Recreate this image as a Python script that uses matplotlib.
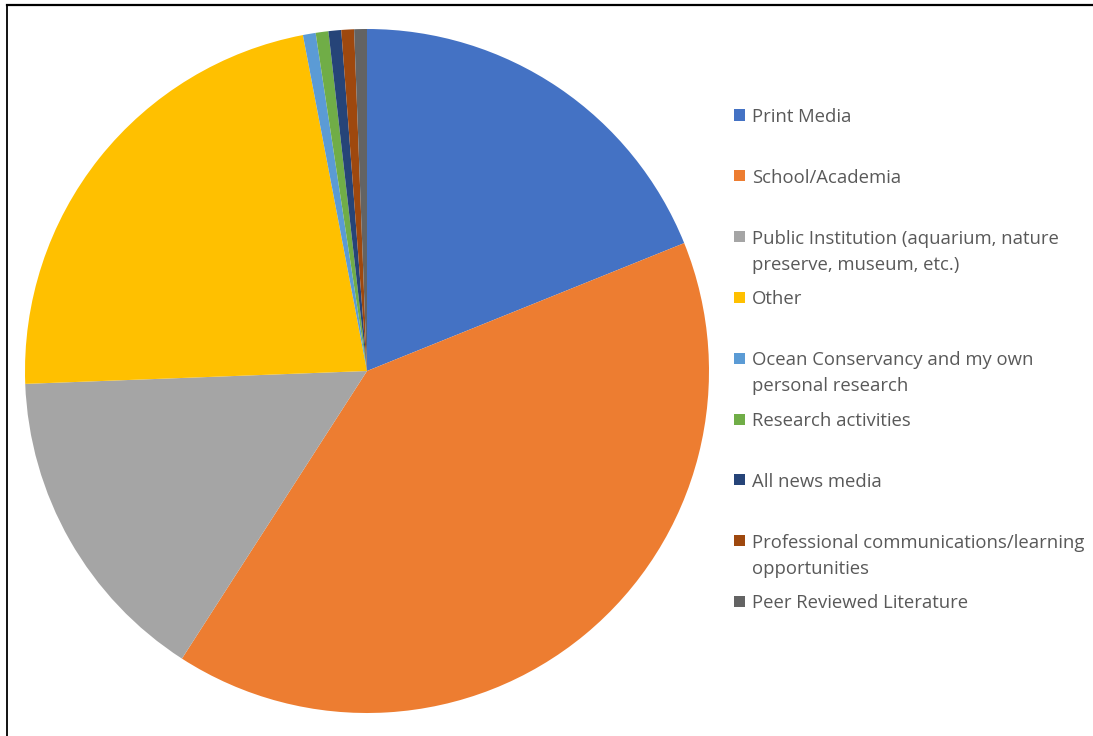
import matplotlib
matplotlib.use('Agg')
import matplotlib.pyplot as plt
from matplotlib.patches import Rectangle
from matplotlib.lines import Line2D

# share of responses by information source (percent)
sources = [
    "Print Media",
    "School/Academia",
    "Public Institution (aquarium, nature\npreserve, museum, etc.)",
    "Other",
    "Ocean Conservancy and my own\npersonal research",
    "Research activities",
    "All news media",
    "Professional communications/learning\nopportunities",
    "Peer Reviewed Literature",
]
shares = [18.9, 40.2, 15.3, 22.6, 0.6, 0.6, 0.6, 0.6, 0.6]
colors = ["#4472C4", "#ED7D31", "#A5A5A5", "#FFC000", "#5B9BD5",
          "#70AD47", "#264478", "#9E480E", "#636363"]

W, H = 1093, 736
fig = plt.figure(figsize=(W / 100, H / 100), dpi=100)

# pie centred at (367, 371) px with radius 342 px
cx, cy, r = 367, 371, 342
ax = fig.add_axes([(cx - r) / W, (H - cy - r) / H, 2 * r / W, 2 * r / H])
ax.pie(shares, colors=colors, startangle=90, counterclock=False,
       radius=1, wedgeprops=dict(linewidth=0))
ax.set_xlim(-1, 1)
ax.set_ylim(-1, 1)
ax.set_aspect('equal')
ax.axis('off')

# chart frame (runs off the right and bottom edges)
fig.add_artist(Line2D([6.5 / W, 1.01], [1 - 5 / H, 1 - 5 / H], color='black',
                      linewidth=1.6, transform=fig.transFigure))
fig.add_artist(Line2D([6.5 / W, 6.5 / W], [1 - 5 / H, -0.01], color='black',
                      linewidth=1.3, transform=fig.transFigure))

# legend, one entry every ~61 px
top = 115
step = 60.8
for i, (lab, col) in enumerate(zip(sources, colors)):
    y = top + i * step
    fig.add_artist(Rectangle((734 / W, 1 - (y + 5.5) / H), 11 / W, 11 / H,
                             facecolor=col, edgecolor='none',
                             transform=fig.transFigure))
    for j, line in enumerate(lab.split("\n")):
        fig.text(752 / W, 1 - (y + 2 + j * 26) / H, line, ha='left', va='center',
                 fontsize=13.35, family='Open Sans', color='#595959')

fig.savefig("out.png", dpi=100)
